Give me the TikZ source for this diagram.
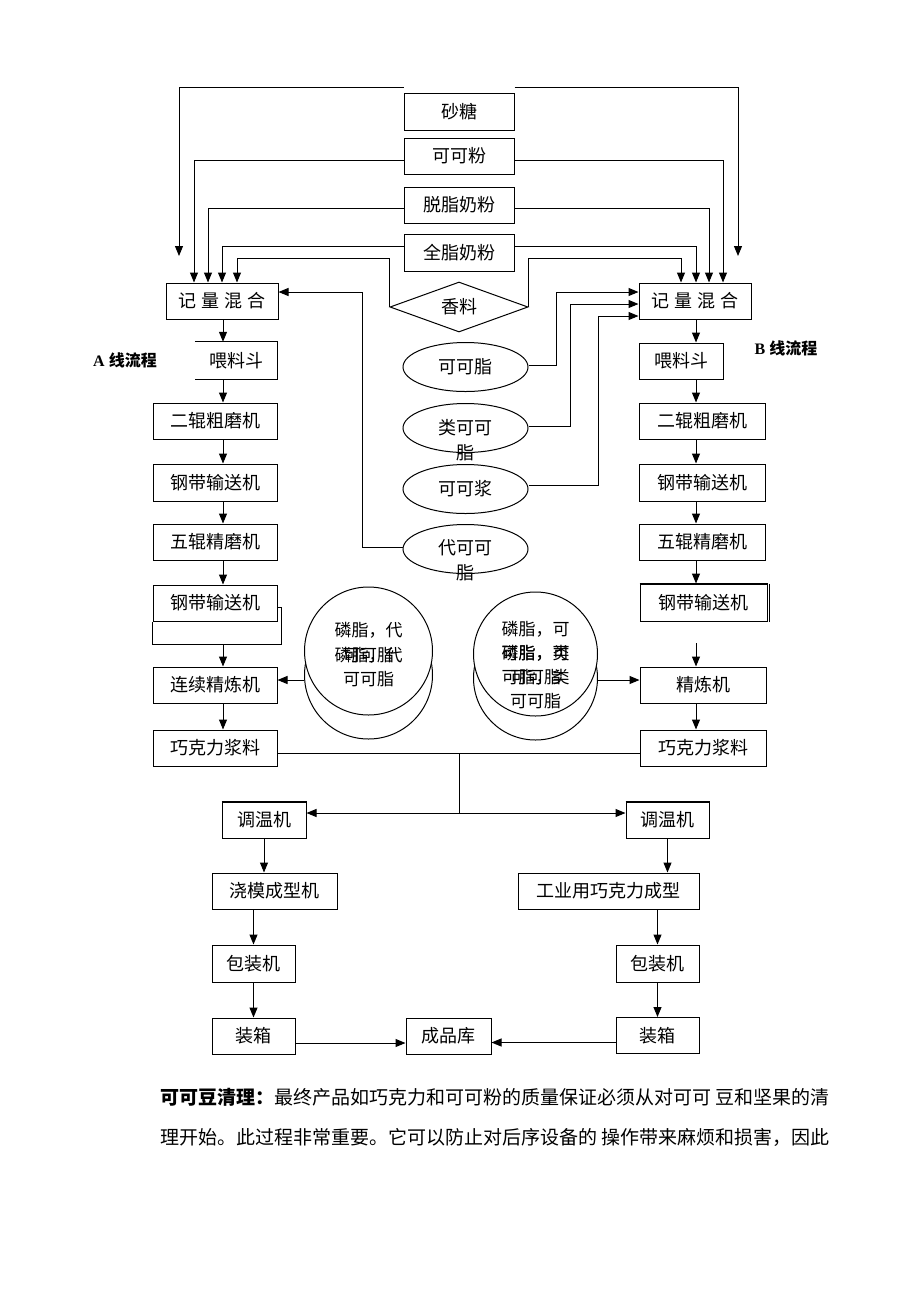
\documentclass[tikz,border=0pt]{standalone}
\usepackage{fontspec}
\newfontfamily\cjk{Noto Sans CJK SC}
\newfontfamily\tms{Liberation Serif}
\usetikzlibrary{arrows.meta,shapes.geometric,calc}
\begin{document}
\begin{tikzpicture}[x=1pt,y=-1pt,
  every node/.style={font=\cjk\fontsize{18}{20}\selectfont, inner sep=0pt},
  box/.style={draw, line width=1pt, minimum height=36pt},
  arr/.style={-{Triangle[length=10pt,width=8pt]}, line width=1pt},
  ln/.style={line width=1pt},
  ell/.style={draw, ellipse, line width=1pt, minimum width=125pt, minimum height=49pt},
  circ/.style={draw, circle, line width=1pt, fill=white},
  ctext/.style={font=\cjk\fontsize{17}{20}\selectfont},
  lab/.style={font=\fontsize{16}{18}\selectfont}
]
\fill[white] (0,0) rectangle (920,1302);
\path[use as bounding box] (0,0) rectangle (920,1302);

% ingredients
\node[box, minimum width=110pt, minimum height=37pt] (sugar) at (459,111.5) {砂糖};
\node[box, minimum width=110pt] (cocoa) at (459,156) {可可粉};
\node[box, minimum width=110pt] (skim) at (459,205) {脱脂奶粉};
\node[box, minimum width=110pt, minimum height=37pt] (whole) at (459,252.5) {全脂奶粉};
\node[draw, diamond, aspect=2.8, line width=1pt, minimum width=138pt, minimum height=50pt] (spice) at (459,307) {香料};

% mixers
\node[box, minimum width=112pt] (Lmix) at (222,301) {记\hspace{5pt}量\hspace{5pt}混\hspace{5pt}合};
\node[box, minimum width=112pt] (Rmix) at (695,301) {记\hspace{5pt}量\hspace{5pt}混\hspace{5pt}合};

% line labels
\node[lab] (Alab) at (125,360) {\tms\bfseries A \cjk\bfseries 线流程};
\node[lab] (Blab) at (786,348) {\tms\bfseries B \cjk\bfseries 线流程};

% left column
\node[minimum width=82pt, minimum height=37pt] (Lfeed) at (236,360.5) {喂料斗};
\draw[ln] (Lfeed.north west) -- (Lfeed.north east) -- (Lfeed.south east) -- (Lfeed.south west);
\node[box, minimum width=124pt] (L2roll) at (215,421) {二辊粗磨机};
\node[box, minimum width=124pt, minimum height=37pt] (Lbelt1) at (215,482.5) {钢带输送机};
\node[box, minimum width=124pt] (L5roll) at (215,542) {五辊精磨机};
\node[box, minimum width=124pt] (Lbelt2) at (215,603) {钢带输送机};
\coordinate (LbR) at (281,644);
\draw[ln] ([yshift=-4pt]Lbelt2.east) -| (LbR) -| (Lbelt2.south west);
\node[box, minimum width=124pt] (Lrefine) at (215,685) {连续精炼机};
\node[box, minimum width=124pt] (Lpaste) at (215,748) {巧克力浆料};

% right column
\node[box, minimum width=84pt] (Rfeed) at (681,361) {喂料斗};
\node[box, minimum width=126pt] (R2roll) at (702,421) {二辊粗磨机};
\node[box, minimum width=126pt, minimum height=37pt] (Rbelt1) at (702,482.5) {钢带输送机};
\node[box, minimum width=126pt] (R5roll) at (702,542) {五辊精磨机};
\node[box, minimum width=127pt, minimum height=37pt] (Rbelt2) at (703.5,602.5) {钢带输送机};
\draw[ln] ([xshift=2pt]Rbelt2.north east) -- ([xshift=2pt]Rbelt2.south east);
\draw[line width=1.6pt] (Rbelt2.north west) -- (Rbelt2.north east);
\node[box, minimum width=126pt] (Rrefine) at (703,685) {精炼机};
\node[box, minimum width=126pt] (Rpaste) at (703,748) {巧克力浆料};

% ellipses
\node[ell] (E1) at (465.5,367) {可可脂};
\node[ell] (E2) at (465.5,428) {};
\node (E2a) at (465.5,428) {类可可};
\node (E2b) at (465.5,453) {脂};
\node[ell] (E3) at (465.5,489) {可可浆};
\node[ell] (E4) at (465.5,549) {};
\node (E4a) at (465.5,548) {代可可};
\node (E4b) at (465.5,573) {脂};

% circles
\node[circ, minimum size=128pt] (LC2) at (368.5,675) {};
\node[circ, minimum size=128pt] (LC1) at (368.5,651) {};
\node[ctext] (LCa) at (368.5,630) {磷脂，代};
\node[ctext] (LCb) at (368.5,655) {可可脂};
\node[ctext] (LCc) at (368.5,655) {磷脂，代};
\node[ctext] (LCd) at (368.5,679) {可可脂};
\node[circ, minimum size=124pt] (RC2) at (535.5,678) {};
\node[circ, minimum size=124pt] (RC1) at (535.5,654) {};
\node[ctext] (RCa) at (535.5,629) {磷脂，可};
\node[ctext] (RCb) at (535.5,653) {可脂，类};
\node[ctext] (RCc) at (535.5,677) {可可脂};
\node[ctext] (RCd) at (535.5,653) {磷脂，可};
\node[ctext] (RCe) at (535.5,677) {可脂，类};
\node[ctext] (RCf) at (535.5,701) {可可脂};

% bottom
\node[box, minimum width=84pt] (Ltemp) at (264,820) {调温机};
\draw[line width=1.6pt] (Ltemp.north west) -- (Ltemp.north east);
\node[box, minimum width=83pt] (Rtemp) at (667.5,820) {调温机};
\draw[line width=1.6pt] (Rtemp.north west) -- (Rtemp.north east);
\node[box, minimum width=125pt] (Lmold) at (274.5,891) {浇模成型机};
\node[box, minimum width=181pt] (Rmold) at (608.5,891) {工业用巧克力成型};
\node[box, minimum width=83pt, minimum height=37pt] (Lpack) at (253.5,963.5) {包装机};
\node[box, minimum width=83pt, minimum height=37pt] (Rpack) at (657.5,963.5) {包装机};
\node[box, minimum width=83pt] (Lbox) at (253.5,1036) {装箱};
\node[box, minimum width=83pt] (Rbox) at (657.5,1035.5) {装箱};
\node[box, minimum width=85pt] (Store) at (448.5,1036) {成品库};

% paragraph
\node[anchor=west, font=\cjk\fontsize{19}{20}\selectfont] (P1) at (160,1097) {\textbf{可可豆清理：}最终产品如巧克力和可可粉的质量保证必须从对可可 豆和坚果的清};
\node[anchor=west, font=\cjk\fontsize{19}{20}\selectfont] (P2) at (160,1137) {理开始。此过程非常重要。它可以防止对后序设备的 操作带来麻烦和损害，因此};

% --- connectors: ingredients to mixers
\coordinate (eL1) at (179,256);
\coordinate (eR1) at (738,256);
\coordinate (xL2) at (194,0); \coordinate (xR2) at (723,0);
\coordinate (xL3) at (208,0); \coordinate (xR3) at (709,0);
\coordinate (xL4) at (222,0); \coordinate (xR4) at (696,0);
\coordinate (xL5) at (237,0); \coordinate (xR5) at (681,0);
\coordinate (yS) at (0,258);
\draw[arr] ([yshift=5pt]sugar.north west) -| (eL1);
\draw[arr] ([yshift=5pt]sugar.north east) -| (eR1);
\draw[arr] ([yshift=-4pt]cocoa.west) -| (Lmix.north -| xL2);
\draw[arr] ([yshift=-4pt]cocoa.east) -| (Rmix.north -| xR2);
\draw[arr] ([yshift=-3pt]skim.west) -| (Lmix.north -| xL3);
\draw[arr] ([yshift=-3pt]skim.east) -| (Rmix.north -| xR3);
\draw[arr] ([yshift=6pt]whole.west) -| (Lmix.north -| xL4);
\draw[arr] ([yshift=6pt]whole.east) -| (Rmix.north -| xR4);
\draw[arr] (spice.west) -- (spice.west |- yS) -| (Lmix.north -| xL5);
\draw[arr] (spice.east) -- (spice.east |- yS) -| (Rmix.north -| xR5);

% ellipses to mixers
\coordinate (k1) at (556,292);
\coordinate (k2) at (570,304);
\coordinate (k3) at (598,316);
\coordinate (k4) at (362,292);
\draw[arr] ([yshift=2pt]E1.east) -| (k1) -- (k1 -| Rmix.west);
\draw[arr] ([yshift=2pt]E2.east) -| (k2) -- (k2 -| Rmix.west);
\draw[arr] ([yshift=4pt]E3.east) -| (k3) -- (k3 -| Rmix.west);
\draw[arr] ([yshift=2pt]E4.west) -| (k4) -- (k4 -| Lmix.east);

% left column arrows
\coordinate (xLa) at (223,0);
\draw[arr] (Lmix.south -| xLa) -- (Lfeed.north -| xLa);
\draw[arr] (Lfeed.south -| xLa) -- (L2roll.north -| xLa);
\draw[arr] (L2roll.south -| xLa) -- (Lbelt1.north -| xLa);
\draw[arr] (Lbelt1.south -| xLa) -- (L5roll.north -| xLa);
\draw[arr] (L5roll.south -| xLa) -- (Lbelt2.north -| xLa);
\draw[arr] (LbR -| xLa) -- (Lrefine.north -| xLa);
\draw[arr] (Lrefine.south -| xLa) -- (Lpaste.north -| xLa);

% right column arrows
\coordinate (xRa) at (696,0);
\coordinate (RbB) at (696,643);
\draw[arr] (Rmix.south -| xRa) -- (Rfeed.north -| xRa);
\draw[arr] (Rfeed.south -| xRa) -- (R2roll.north -| xRa);
\draw[arr] (R2roll.south -| xRa) -- (Rbelt1.north -| xRa);
\draw[arr] (Rbelt1.south -| xRa) -- (R5roll.north -| xRa);
\draw[arr] (R5roll.south -| xRa) -- (Rbelt2.north -| xRa);
\draw[arr] (RbB) -- (Rrefine.north -| xRa);
\draw[arr] (Rrefine.south -| xRa) -- (Rpaste.north -| xRa);

% circles to refiners
\draw[arr] ([yshift=-5pt]LC2.west) -- ([yshift=-5pt]LC2.west -| Lrefine.east);
\draw[arr] ([yshift=-2pt]RC2.east) -- ([yshift=-2pt]RC2.east -| Rrefine.west);

% bottom connectors
\coordinate (J1) at (459,753);
\coordinate (J2) at (459,813);
\draw[ln] (J1 -| Lpaste.east) -- (J1 -| Rpaste.west);
\draw[ln] (J1) -- (J2);
\draw[arr] (J2) -- (J2 -| Ltemp.east);
\draw[arr] (J2) -- (J2 -| Rtemp.west);
\draw[arr] (Ltemp.south) -- (Ltemp.south |- Lmold.north);
\draw[arr] (Lmold.south -| Lpack.north) -- (Lpack.north);
\draw[arr] (Lpack.south) -- (Lbox.north);
\draw[arr] (Rtemp.south) -- (Rtemp.south |- Rmold.north);
\draw[arr] (Rmold.south -| Rpack.north) -- (Rpack.north);
\draw[arr] (Rpack.south) -- (Rbox.north);
\draw[arr] ([yshift=-7pt]Lbox.east) -- ([yshift=-7pt]Lbox.east -| Store.west);
\draw[arr] ([yshift=-7pt]Rbox.west) -- ([yshift=-7pt]Rbox.west -| Store.east);
\end{tikzpicture}
\end{document}
